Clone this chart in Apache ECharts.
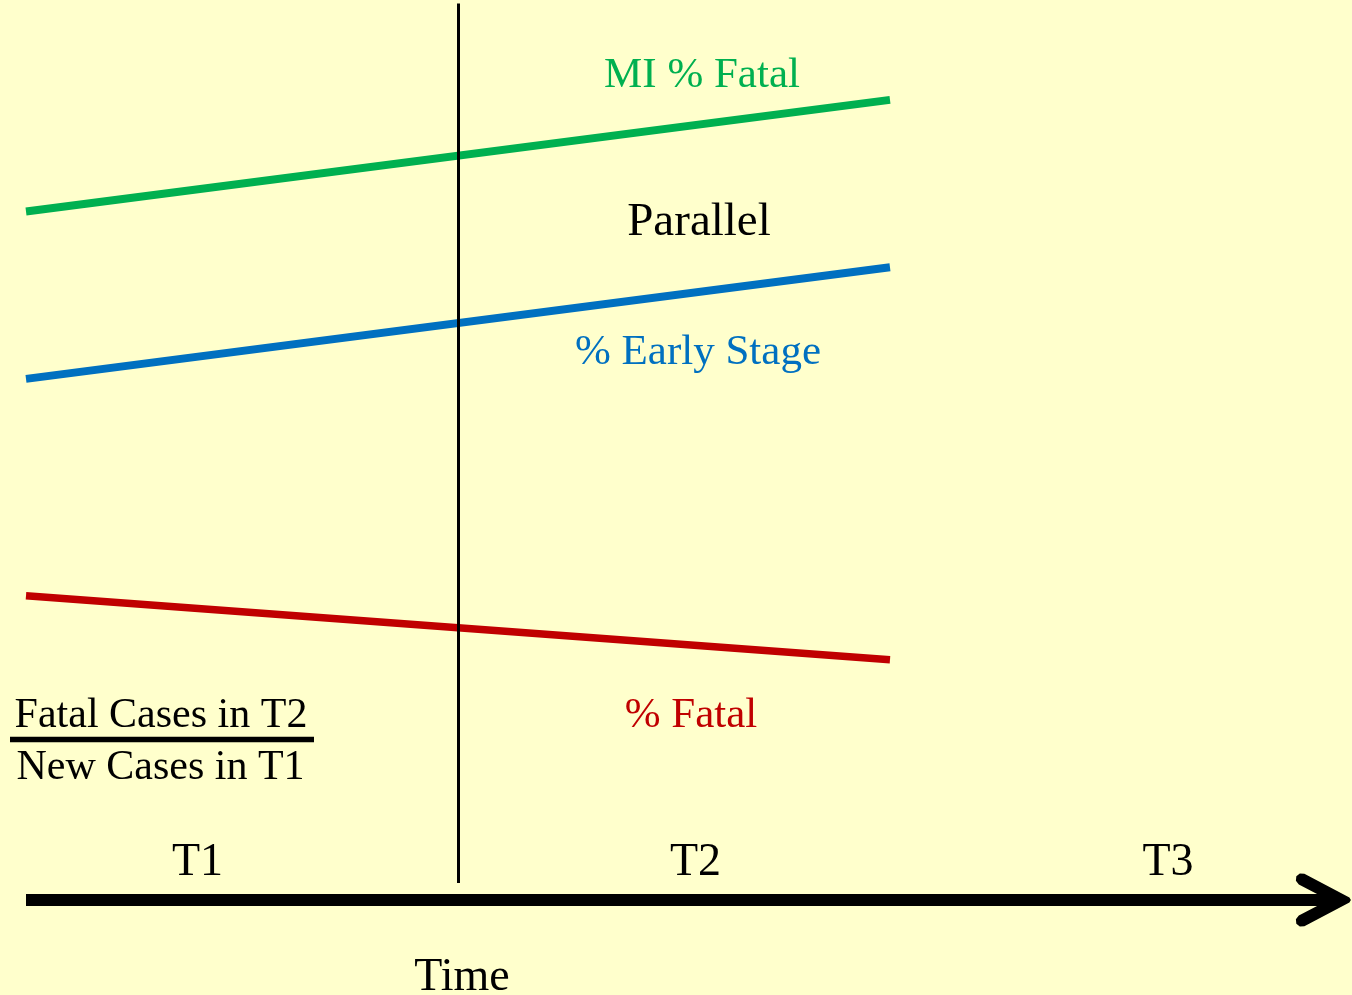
<!DOCTYPE html>
<html>
<head>
<meta charset="utf-8">
<script src="https://cdn.jsdelivr.net/npm/echarts@6/dist/echarts.min.js"></script>
<style>
html,body{margin:0;padding:0;background:#FFFFCC;}
#chart{width:1352px;height:995px;}
</style>
</head>
<body>
<div id="chart"></div>
<script>
// Time positions (unit = one period) and line values (0-100 scale)
const timePoints = [0, 2];
const miFatal = [76.5, 88.9];
const earlyStage = [57.9, 70.3];
const pctFatal = [33.8, 26.7];
const dividerTime = 1;
const dividerRange = [99.6, 1.9];
const periodLabels = ['T1', 'T2', 'T3'];
const seriesNames = ['MI % Fatal', '% Early Stage', '% Fatal'];

const FONT = '"Liberation Serif", "Times New Roman", serif';
const chevron = 'path://M0.69,47.21 L24.4,2 L27,0.5 L29.6,2 L53.31,47.21 L53.73,51.78 L50.79,55.31 L46.22,55.73 L42.69,52.79 L27,22.9 L11.31,52.79 L7.78,55.73 L3.21,55.31 L0.27,51.78 Z';

function pairs(xs, ys) { return xs.map((x, i) => [x, ys[i]]); }

const chart = echarts.init(document.getElementById('chart'));
const option = {
  backgroundColor: '#FFFFCC',
  animation: false,
  grid: { left: 26, right: 12, top: 0, bottom: 95, containLabel: false, outerBoundsMode: 'none' },
  xAxis: {
    type: 'value', min: 0, max: 3.0417,
    axisLine: {
      show: true, onZero: true,
      lineStyle: { color: '#000', width: 12, cap: 'butt' },
      symbol: ['none', chevron], symbolSize: [53.5, 55], symbolOffset: [0, -16.6]
    },
    axisTick: { show: false }, axisLabel: { show: false }, splitLine: { show: false }
  },
  yAxis: {
    type: 'value', min: 0, max: 100, show: false,
    axisLine: { show: false }, splitLine: { show: false }
  },
  series: [
    {
      name: seriesNames[0], type: 'line', symbol: 'none', silent: true,
      data: pairs(timePoints, miFatal),
      lineStyle: { color: '#00B050', width: 8 },
      markLine: {
        silent: true, symbol: ['none', 'none'], label: { show: false },
        lineStyle: { color: '#000', width: 3, type: 'solid' },
        data: [[{ coord: [dividerTime, dividerRange[0]] }, { coord: [dividerTime, dividerRange[1]] }]]
      }
    },
    {
      name: seriesNames[1], type: 'line', symbol: 'none', silent: true,
      data: pairs(timePoints, earlyStage),
      lineStyle: { color: '#0070C0', width: 8 }
    },
    {
      name: seriesNames[2], type: 'line', symbol: 'none', silent: true,
      data: pairs(timePoints, pctFatal),
      lineStyle: { color: '#C00000', width: 7.5 }
    }
  ],
  graphic: [
    { type: 'text', x: 702, y: 76, style: { text: seriesNames[0], fill: '#00B050', font: '43px ' + FONT, align: 'center', verticalAlign: 'middle' } },
    { type: 'text', x: 699, y: 223, style: { text: 'Parallel', fill: '#000', font: '47px ' + FONT, align: 'center', verticalAlign: 'middle' } },
    { type: 'text', x: 698, y: 353, style: { text: seriesNames[1], fill: '#0070C0', font: '43px ' + FONT, align: 'center', verticalAlign: 'middle' } },
    { type: 'text', x: 691, y: 716, style: { text: seriesNames[2], fill: '#C00000', font: '43px ' + FONT, align: 'center', verticalAlign: 'middle' } },
    { type: 'text', x: 161, y: 716, style: { text: 'Fatal Cases in T2', fill: '#000', font: '42px ' + FONT, align: 'center', verticalAlign: 'middle' } },
    { type: 'line', shape: { x1: 10, y1: 739.5, x2: 314, y2: 739.5 }, style: { stroke: '#000', lineWidth: 5.5 } },
    { type: 'text', x: 160.5, y: 767.5, style: { text: 'New Cases in T1', fill: '#000', font: '42px ' + FONT, align: 'center', verticalAlign: 'middle' } },
    { type: 'text', x: 197.5, y: 863, style: { text: periodLabels[0], fill: '#000', font: '46px ' + FONT, align: 'center', verticalAlign: 'middle' } },
    { type: 'text', x: 695.5, y: 863, style: { text: periodLabels[1], fill: '#000', font: '46px ' + FONT, align: 'center', verticalAlign: 'middle' } },
    { type: 'text', x: 1168, y: 863, style: { text: periodLabels[2], fill: '#000', font: '46px ' + FONT, align: 'center', verticalAlign: 'middle' } },
    { type: 'text', x: 462, y: 978, style: { text: 'Time', fill: '#000', font: '46px ' + FONT, align: 'center', verticalAlign: 'middle' } }
  ]
};
chart.setOption(option);
</script>
</body>
</html>
